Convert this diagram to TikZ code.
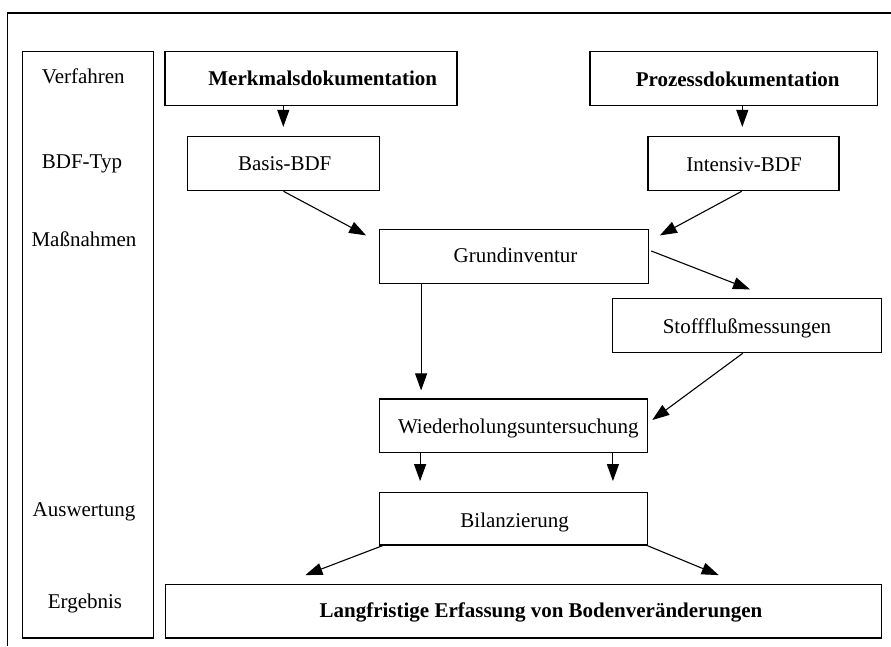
\documentclass[tikz,border=0pt]{standalone}
\usepackage{fontspec}
\setmainfont{Liberation Serif}
\usetikzlibrary{arrows.meta,calc}
\begin{document}
\begin{tikzpicture}[x=1pt,y=-1pt,
  box/.style={draw,line width=1.2pt,inner sep=0pt},
  txt/.style={anchor=base,inner sep=0pt,font=\fontsize{21}{25}\selectfont},
  btxt/.style={txt,font=\fontsize{21}{25}\selectfont\bfseries},
  arr/.style={line width=1.1pt,-{Triangle[length=17pt,width=12pt]}}]
\useasboundingbox (0,0) rectangle (891,646);
% outer frame (partly outside the page)
\draw[line width=1.2pt] (7.5,646) -- (7.5,13) -- (895,13);
% label column
\node[box,minimum width=131pt,minimum height=586.3pt] (lab) at (88.2,344.85) {};
\node[txt] (lVer) at (83.3,83.3) {Verfahren};
\node[txt] (lBDF) at (82,168.3) {BDF-Typ};
\node[txt] (lMas) at (84,246.7) {Maßnahmen};
\node[txt] (lAus) at (84,516.7) {Auswertung};
\node[txt] (lErg) at (85,608.3) {Ergebnis};
% boxes
\node[box,minimum width=292pt,minimum height=53.8pt] (merk) at (311,78.6) {};
\node[box,minimum width=287.7pt,minimum height=53.8pt] (proz) at (733.85,78.6) {};
\node[box,minimum width=191.6pt,minimum height=54.2pt] (basis) at (283.5,163.6) {};
\node[box,minimum width=191pt,minimum height=54.2pt] (inten) at (743.5,163.6) {};
\node[box,minimum width=269pt,minimum height=54pt] (grund) at (513.8,256.3) {};
\node[box,minimum width=269pt,minimum height=54.4pt] (stoff) at (747.2,325.5) {};
\node[box,minimum width=268.4pt,minimum height=53.7pt] (wied) at (513.5,425.85) {};
\node[box,minimum width=268.4pt,minimum height=52.7pt] (bil) at (513.5,518.65) {};
\node[box,minimum width=716pt,minimum height=53.7pt] (erg) at (523.7,611.15) {};
% box texts
\node[btxt] (tMerk) at (322.7,85) {Merkmalsdokumentation};
\node[btxt] (tProz) at (737.7,86) {Prozessdokumentation};
\node[txt] (tBasis) at (284.7,170.5) {Basis-BDF};
\node[txt] (tInten) at (744,171.5) {Intensiv-BDF};
\node[txt] (tGrund) at (515.5,262.7) {Grundinventur};
\node[txt] (tStoff) at (747,333) {Stoffflußmessungen};
\node[txt] (tWied) at (518.3,433.3) {Wiederholungsuntersuchung};
\node[txt] (tBil) at (514.7,527.5) {Bilanzierung};
\node[btxt] (tErg) at (541,617.5) {Langfristige Erfassung von Bodenveränderungen};
% connectors
\draw[arr] ($(merk.south)+(-27.7,0)$) -- ($(basis.north)+(-0.2,-9)$);
\draw[arr] ($(proz.south)+(8.45,0)$) -- ($(inten.north)+(-1.2,-9)$);
\draw[arr] (basis.south) -- ($(grund.north west)+(-12.6,6.7)$);
\draw[arr] ($(inten.south)+(-1.8,0)$) -- ($(grund.north east)+(11,6.7)$);
\draw[arr] ($(grund.east)+(2.4,-5.3)$) -- ($(stoff.north)+(2.8,-8.3)$);
\draw[arr] ($(grund.south west)+(42.4,0)$) -- ($(wied.north west)+(42.4,-8)$);
\draw[arr] ($(stoff.south)+(-4.5,0)$) -- ($(wied.east)+(4,-5.85)$);
\draw[arr] ($(wied.south west)+(41.4,0)$) -- ($(bil.north west)+(41.4,-10.6)$);
\draw[arr] ($(wied.south east)+(-35.4,0)$) -- ($(bil.north east)+(-35.4,-10.6)$);
\draw[arr] ($(bil.south west)+(4,0)$) -- ($(erg.north west)+(140.3,-8.6)$);
\draw[arr] ($(bil.south east)+(-1,0)$) -- ($(erg.north west)+(553.6,-8.6)$);
\end{tikzpicture}
\end{document}
